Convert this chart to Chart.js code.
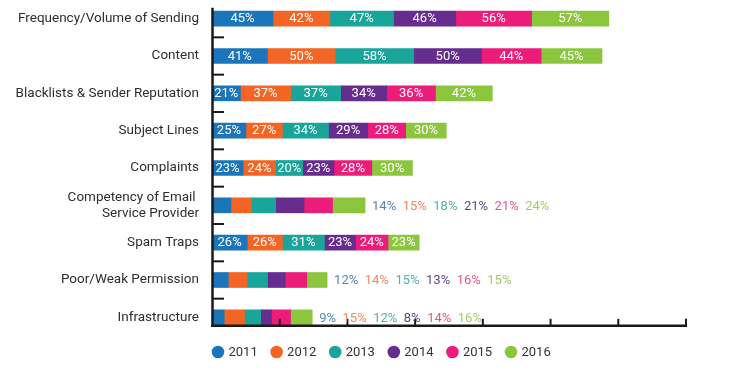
<!DOCTYPE html>
<html>
<head>
<meta charset="utf-8">
<script src="https://cdn.jsdelivr.net/npm/chart.js@4"></script>
<style>
  html, body { margin: 0; padding: 0; background: #ffffff; }
  #wrap { width: 749px; height: 372px; }
</style>
</head>
<body>
<div id="wrap"><canvas id="c" width="749" height="372"></canvas></div>
<script>
// ---- DATA ----
const categories = [
  'Frequency/Volume of Sending',
  'Content',
  'Blacklists & Sender Reputation',
  'Subject Lines',
  'Complaints',
  ['Competency of Email ', 'Service Provider'],
  'Spam Traps',
  'Poor/Weak Permission',
  'Infrastructure'
];
const years = ['2011', '2012', '2013', '2014', '2015', '2016'];
const v2011 = [45, 41, 21, 25, 23, 14, 26, 12, 9];
const v2012 = [42, 50, 37, 27, 24, 15, 26, 14, 15];
const v2013 = [47, 58, 37, 34, 20, 18, 31, 15, 12];
const v2014 = [46, 50, 34, 29, 23, 21, 23, 13, 8];
const v2015 = [56, 44, 36, 28, 28, 21, 24, 16, 14];
const v2016 = [57, 45, 42, 30, 30, 24, 23, 15, 16];
const xTickValues = [50, 100, 150, 200, 250, 300, 350];

// ---- STYLE ----
const barColors = ['#1b75bb', '#f26524', '#19a59a', '#662d8f', '#ec1c7a', '#8cc63f'];
const outsideLabelColors = ['#5685b8', '#f08a60', '#55aea5', '#5e4786', '#e2568a', '#a3cc66'];
const FONT = 'Roboto, "Liberation Sans", Arial, sans-serif';

const seriesValues = [v2011, v2012, v2013, v2014, v2015, v2016];
const datasets = years.map((y, i) => ({
  label: y,
  data: seriesValues[i],
  backgroundColor: barColors[i],
  borderWidth: 0,
  barThickness: 15
}));

const axesPlugin = {
  id: 'customAxes',
  afterDatasetsDraw(chart) {
    const ctx = chart.ctx;
    const xs = chart.scales.x, ys = chart.scales.y;
    const left = chart.chartArea.left;
    const lastCenter = ys.getPixelForValue(categories.length - 1);
    const axisY = lastCenter + 8.5;
    const topY = ys.getPixelForValue(0) - 11;
    ctx.save();
    ctx.strokeStyle = '#1a1a1a';
    ctx.lineCap = 'butt';
    ctx.lineWidth = 2.5;
    ctx.beginPath();
    ctx.moveTo(left + 0.5, topY);
    ctx.lineTo(left + 0.5, axisY + 1.25);
    ctx.stroke();
    const right = xs.getPixelForValue(xTickValues[xTickValues.length - 1]);
    ctx.beginPath();
    ctx.moveTo(left - 0.75, axisY);
    ctx.lineTo(right + 1, axisY);
    ctx.stroke();
    ctx.lineWidth = 2;
    for (let i = 0; i < categories.length - 1; i++) {
      const yb = (ys.getPixelForValue(i) + ys.getPixelForValue(i + 1)) / 2;
      ctx.beginPath();
      ctx.moveTo(left, yb);
      ctx.lineTo(left + 12, yb);
      ctx.stroke();
    }
    xTickValues.forEach(v => {
      const px = xs.getPixelForValue(v);
      ctx.beginPath();
      ctx.moveTo(px, axisY);
      ctx.lineTo(px, axisY - 7);
      ctx.stroke();
    });
    ctx.restore();
  }
};

const labelPlugin = {
  id: 'barLabels',
  afterDatasetsDraw(chart) {
    const ctx = chart.ctx;
    ctx.save();
    ctx.font = '13px ' + FONT;
    ctx.textBaseline = 'middle';
    for (let i = 0; i < categories.length; i++) {
      const bars = chart.data.datasets.map((d, di) => chart.getDatasetMeta(di).data[i]);
      const texts = chart.data.datasets.map(d => d.data[i] + '%');
      let outside = false;
      bars.forEach((b, di) => {
        if (Math.abs(b.x - b.base) < ctx.measureText(texts[di]).width + 1) outside = true;
      });
      if (!outside) {
        ctx.textAlign = 'center';
        ctx.fillStyle = '#ffffff';
        bars.forEach((b, di) => {
          ctx.fillText(texts[di], (b.x + b.base) / 2, b.y + 0.5);
        });
      } else {
        ctx.textAlign = 'left';
        let x = bars[bars.length - 1].x + 7;
        bars.forEach((b, di) => {
          ctx.fillStyle = outsideLabelColors[di];
          ctx.fillText(texts[di], x, b.y + 1);
          x += ctx.measureText(texts[di]).width + 6.5;
        });
      }
    }
    ctx.restore();
  }
};

const legendPlugin = {
  id: 'dotLegend',
  afterDraw(chart) {
    const ctx = chart.ctx;
    ctx.save();
    ctx.font = '13px ' + FONT;
    ctx.textBaseline = 'middle';
    ctx.textAlign = 'left';
    const y = 352;
    chart.data.datasets.forEach((d, i) => {
      const cx = 218 + i * 58.6;
      ctx.fillStyle = d.backgroundColor;
      ctx.beginPath();
      ctx.arc(cx, y, 6.3, 0, Math.PI * 2);
      ctx.fill();
      ctx.fillStyle = '#333333';
      ctx.fillText(d.label, cx + 10.5, y + 0.5);
    });
    ctx.restore();
  }
};

new Chart(document.getElementById('c'), {
  type: 'bar',
  data: { labels: categories, datasets: datasets },
  options: {
    indexAxis: 'y',
    responsive: false,
    animation: false,
    devicePixelRatio: 1,
    layout: { padding: { left: 0, right: 63, top: 0, bottom: 36 } },
    plugins: {
      legend: { display: false },
      tooltip: { enabled: false }
    },
    scales: {
      x: {
        stacked: true,
        min: 0,
        max: 350,
        display: false
      },
      y: {
        stacked: true,
        grid: { display: false, drawTicks: false },
        border: { display: false },
        ticks: {
          color: '#2e2e2e',
          padding: 13,
          font: { family: FONT, size: 13.5 },
          autoSkip: false
        },
        afterFit(scale) {
          scale.width = 212;
          scale.paddingTop = 0;
          scale.paddingBottom = 0;
        }
      }
    }
  },
  plugins: [axesPlugin, labelPlugin, legendPlugin]
});
</script>
</body>
</html>
